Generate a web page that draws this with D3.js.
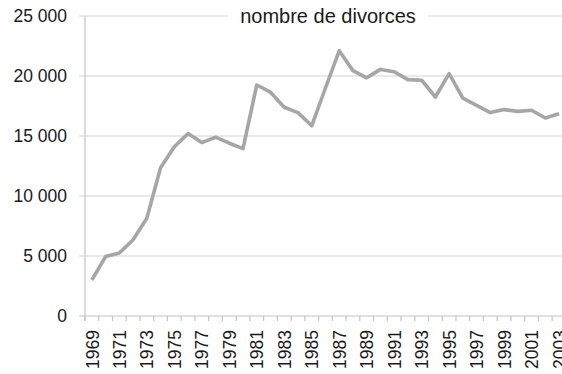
<!DOCTYPE html>
<html>
<head>
<meta charset="utf-8">
<script src="https://cdn.jsdelivr.net/npm/d3@7"></script>
<style>
  html, body { margin: 0; padding: 0; background: #fff; }
  svg { display: block; font-family: "Liberation Sans", Arial, sans-serif; }
</style>
</head>
<body>
<svg id="chart" width="562" height="374"></svg>
<script>
// Annual number of divorces, 1969–2003
const years = [1969, 1970, 1971, 1972, 1973, 1974, 1975, 1976, 1977, 1978,
               1979, 1980, 1981, 1982, 1983, 1984, 1985, 1986, 1987, 1988,
               1989, 1990, 1991, 1992, 1993, 1994, 1995, 1996, 1997, 1998,
               1999, 2000, 2001, 2002, 2003];
const divorces = [3000, 4950, 5250, 6350, 8150, 12350, 14100, 15200, 14450, 14900,
                  14400, 13950, 19250, 18650, 17400, 16950, 15850, 19000, 22100, 20450,
                  19850, 20550, 20350, 19700, 19650, 18250, 20200, 18150, 17550, 16950,
                  17200, 17050, 17150, 16500, 16850];
const yTicks = [0, 5000, 10000, 15000, 20000, 25000];
const xLabelYears = years.filter(y => y % 2 === 1);
const seriesName = "nombre de divorces";

const data = years.map((y, i) => ({ year: y, value: divorces[i] }));

const svg = d3.select("#chart");
const plotLeft = 85, plotTop = 16, plotBottom = 316, step = 13.74;

const x = d3.scaleBand()
  .domain(years)
  .range([plotLeft, plotLeft + step * years.length])
  .paddingInner(0).paddingOuter(0);

const y = d3.scaleLinear().domain([0, 25000]).range([plotBottom, plotTop]);

const fr = d3.formatLocale({ decimal: ",", thousands: " ", grouping: [3], currency: ["", " €"] });
const fmt = fr.format(",");

// horizontal gridlines with short outside ticks
svg.append("g").selectAll("line")
  .data(yTicks.filter(t => t > 0))
  .join("line")
  .attr("x1", plotLeft - 6).attr("x2", 562)
  .attr("y1", d => y(d)).attr("y2", d => y(d))
  .attr("stroke", "#d4d4d4").attr("stroke-width", 1.2);

// y axis line
svg.append("line")
  .attr("x1", plotLeft).attr("x2", plotLeft)
  .attr("y1", plotTop).attr("y2", plotBottom + 5)
  .attr("stroke", "#c4c4c4").attr("stroke-width", 1.2);

// x axis line and ticks at category boundaries
svg.append("line")
  .attr("x1", plotLeft - 6).attr("x2", 562)
  .attr("y1", plotBottom).attr("y2", plotBottom)
  .attr("stroke", "#c4c4c4").attr("stroke-width", 1.2);
svg.append("g").selectAll("line")
  .data(years.concat([null]))
  .join("line")
  .attr("x1", d => d === null ? x.range()[1] : x(d))
  .attr("x2", d => d === null ? x.range()[1] : x(d))
  .attr("y1", plotBottom).attr("y2", plotBottom + 5)
  .attr("stroke", "#c4c4c4").attr("stroke-width", 1.2);

// y tick labels
svg.append("g").selectAll("text")
  .data(yTicks)
  .join("text")
  .attr("x", 67).attr("y", d => y(d))
  .attr("dy", "0.36em")
  .attr("text-anchor", "end")
  .attr("font-size", 17.5)
  .attr("fill", "#1a1a1a")
  .text(d => fmt(d));

// x tick labels (rotated)
svg.append("g").selectAll("text")
  .data(xLabelYears)
  .join("text")
  .attr("transform", d => `translate(${x(d) + x.bandwidth() / 2},330) rotate(-90)`)
  .attr("dy", "0.38em")
  .attr("text-anchor", "end")
  .attr("font-size", 17.5)
  .attr("fill", "#1a1a1a")
  .text(d => d);

// series line
const line = d3.line()
  .x(d => x(d.year) + x.bandwidth() / 2)
  .y(d => y(d.value));
svg.append("path")
  .datum(data)
  .attr("d", line)
  .attr("fill", "none")
  .attr("stroke", "#a6a6a6")
  .attr("stroke-width", 3.6)
  .attr("stroke-linejoin", "round")
  .attr("stroke-linecap", "butt");

// series title over the top gridline
const title = svg.append("g");
const tBox = title.append("rect").attr("fill", "#fff");
const tText = title.append("text")
  .attr("x", 328).attr("y", 23)
  .attr("text-anchor", "middle")
  .attr("font-size", 20)
  .attr("fill", "#1a1a1a")
  .text(seriesName);
const bb = tText.node().getBBox();
tBox.attr("x", bb.x - 12).attr("y", bb.y).attr("width", bb.width + 24).attr("height", bb.height);
</script>
</body>
</html>
